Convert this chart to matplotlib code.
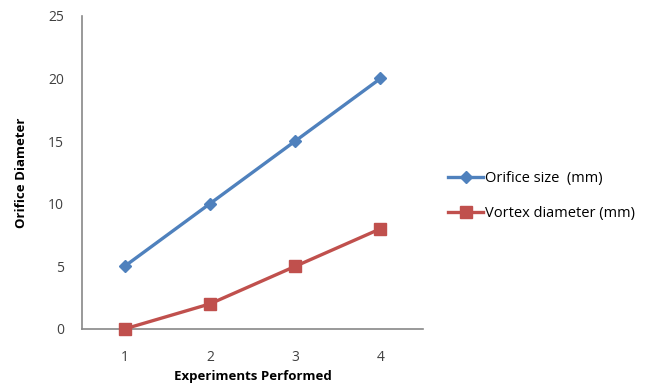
import numpy as np
import matplotlib.pyplot as plt

plt.rcParams['font.family'] = ['Open Sans', 'DejaVu Sans']

experiments = ['1', '2', '3', '4']
orifice_size = [5, 10, 15, 20]
vortex_diameter = [0, 2, 5, 8]

fig = plt.figure(figsize=(6.5, 3.87), dpi=100)
ax = fig.add_axes([0.126, 0.150, 0.525, 0.809])

x = np.arange(1, len(experiments) + 1)
ax.plot(x, orifice_size, color='#4F81BD', lw=2.4, marker='D', ms=6.5,
        label='Orifice size  (mm)', clip_on=False, zorder=3)
ax.plot(x, vortex_diameter, color='#C0504D', lw=2.4, marker='s', ms=8,
        label='Vortex diameter (mm)', clip_on=False, zorder=3)

ax.set_xlim(0.5, 4.5)
ax.set_ylim(0, 25)
ax.set_yticks([0, 5, 10, 15, 20, 25])
ax.set_xticks(x)
ax.set_xticklabels(experiments)
ax.tick_params(length=0, labelsize=10, colors='#404040')
ax.tick_params(axis='x', pad=15)
ax.tick_params(axis='y', pad=13)

for s in ['top', 'right']:
    ax.spines[s].set_visible(False)
for s in ['left', 'bottom']:
    ax.spines[s].set_color('#888888')
    ax.spines[s].set_linewidth(1.2)

ax.set_xlabel('Experiments Performed', fontsize=9.5, fontweight='bold', labelpad=4)
ax.set_ylabel('Orifice Diameter', fontsize=9.5, fontweight='bold', labelpad=14)

ax.legend(loc='center left', bbox_to_anchor=(1.035, 0.425), frameon=False,
          fontsize=10.5, handlelength=2.4, labelspacing=1.35, handletextpad=0.15)

fig.savefig('out.png', dpi=100)
